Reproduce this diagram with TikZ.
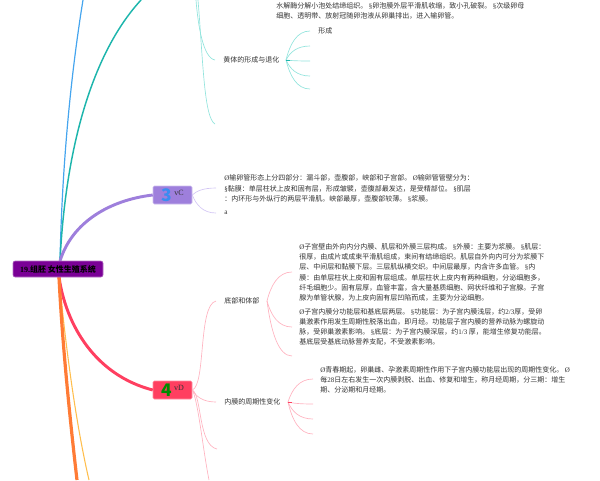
\documentclass[tikz,border=0pt]{standalone}
\usepackage{fontspec}
\usetikzlibrary{calc}
\setmainfont{Noto Sans CJK SC}
\newfontfamily\lat{Liberation Serif}
\definecolor{rootc}{HTML}{7A0096}
\definecolor{purp}{HTML}{9E7FDC}
\definecolor{redc}{HTML}{FF3F60}
\definecolor{tealc}{HTML}{1DB5AC}
\definecolor{bluec}{HTML}{45A5EE}
\definecolor{orangec}{HTML}{FF7B35}
\definecolor{yelc}{HTML}{FFBE4D}
\definecolor{lpink}{HTML}{FFB3C0}
\definecolor{lteal}{HTML}{93E4DD}
\definecolor{lpurp}{HTML}{D3C6F4}
\definecolor{txt}{HTML}{333333}
\tikzset{
  para/.style={anchor=west,inner sep=0pt,align=left,text=txt,font=\fontsize{5.25}{7.65}\selectfont},
  lbl/.style={anchor=west,inner sep=0pt,text=txt,font=\fontsize{5.25}{6}\selectfont},
  mainbox/.style={rectangle,rounded corners=1pt,minimum width=29.25pt,minimum height=13.5pt,inner sep=0pt},
  digit/.style={inner sep=0pt,font=\fontsize{13}{13}\selectfont\bfseries},
  vtag/.style={inner sep=0pt,text=black!80,font=\lat\fontsize{6}{6}\selectfont},
  fan/.style={to path={.. controls ($(\tikztostart)!0.55!(\tikztostart|-\tikztotarget)+(3pt,0)$) and ($(\tikztostart|-\tikztotarget)!0.45!(\tikztotarget)$) .. (\tikztotarget)}},
  pinkl/.style={draw=lpink,line width=0.5pt},
  teall/.style={draw=lteal,line width=0.5pt},
  purpl/.style={draw=lpurp,line width=0.5pt}
}
\begin{document}
\begin{tikzpicture}[x=0.75pt,y=-0.75pt]
\useasboundingbox (0,0) rectangle (600,480);
\clip (0,0) rectangle (600,480);
% free ends
\coordinate (blueend) at (83,0);
\coordinate (tealend) at (141,0);
\coordinate (orangeend) at (77,480);
\coordinate (yelend) at (89,480);
\coordinate (rootT) at (60,261);
\coordinate (rootB) at (59,277);
% main nodes
\node[mainbox,draw=purp!50!white,fill=purp] (vC) at (172.5,195) {};
\node[mainbox,draw=redc!60!white,fill=redc] (vD) at (172.5,390) {};
% main branches
\draw[bluec,line width=0.9pt] (rootT) .. controls (62,170) and (70,80) .. (blueend);
\draw[tealc,line width=1.1pt] (rootT) .. controls (66,140) and (95,50) .. (tealend);
\draw[purp,line width=2.2pt] (rootT) .. controls (72,222) and (110,200) .. (vC.west);
\draw[redc,line width=2.2pt] (rootB) .. controls (66,325) and (95,375) .. (vD.west);
\draw[yelc,line width=0.8pt] (rootB) .. controls (65,340) and (75,420) .. (yelend);
\draw[orangec,line width=2.4pt] (rootB) .. controls (62,340) and (70,420) .. (orangeend);
\node[rectangle,rounded corners=1.5pt,draw=rootc!55!white,line width=0.4pt,fill=rootc,minimum width=67.5pt,minimum height=12pt,inner sep=0pt,font=\fontsize{6}{6}\selectfont\bfseries,text=black] (root) at (58,269) {{\lat 19.}组胚 女性生殖系统};
\node[digit,text=bluec!85!blue] (d3) at (167,195) {3};
\node[vtag] (tc) at (179,193) {vC};
\node[digit,text=green!55!black] (d4) at (167,390) {4};
\node[vtag] (td) at (179,388) {vD};
% top text
\node[para] (ptop) at (276,11) {水解酶分解小泡处结缔组织。 {\lat§}卵泡膜外层平滑肌收缩，致小孔破裂。 {\lat§}次级卵母\\细胞、透明带、放射冠随卵泡液从卵巢排出，进入输卵管。};
% luteal branch
\node[lbl] (huang) at (223,60) {黄体的形成与退化};
\node[lbl] (xc) at (318,31) {形成};
\coordinate (thub) at (286,60);
\coordinate (ta) at (196,0);
\coordinate (tb) at (198,0);
\coordinate (tk) at (215,124);
\coordinate (t1) at (310,31);
\coordinate (t2) at (310,46);
\coordinate (t3) at (310,61);
\coordinate (t4) at (310,76);
\coordinate (t5) at (310,89);
\draw[teall] (ta) .. controls (198,25) and (203,58) .. ([xshift=-6pt]huang.west);
\draw[teall] (tb) .. controls (203,60) and (204,118) .. (tk);
\foreach \e in {t1,t2,t3,t4,t5} \draw[teall] (thub) to[fan] (\e);
\draw[tealc,line width=0.6pt] (thub) -- ++(4,0);
% vC children
\node[para] (pc) at (224,188.5) {{\lat Ø}输卵管形态上分四部分：漏斗部，壶腹部，峡部和子宫部。 {\lat Ø}输卵管管壁分为：\\{\lat§}黏膜：单层柱状上皮和固有层，形成皱襞，壶腹部最发达，是受精部位。 {\lat§}肌层\\：内环形与外纵行的两层平滑肌。峡部最厚，壶腹部较薄。 {\lat§}浆膜。};
\node[lbl,font=\lat\fontsize{5.5}{6}\selectfont] (pa) at (224,213) {a};
\coordinate (pce) at (216,188);
\coordinate (pae) at (216,213);
\draw[purpl] (vC.east) to[fan] (pce);
\draw[purpl] (vC.east) to[fan] (pae);
% vD children
\node[lbl] (di) at (224,301) {底部和体部};
\node[lbl] (nei) at (224,402) {内膜的周期性变化};
\coordinate (d2e) at (216,402);
\coordinate (d3e) at (217,449);
\coordinate (d4e) at (209,480);
\draw[pinkl] (vD.east) .. controls (206,385) and (198,305) .. ([xshift=-6pt]di.west);
\draw[pinkl] (vD.east) to[fan] (d2e);
\draw[pinkl] (vD.east) .. controls (202,395) and (198,445) .. (d3e);
\draw[pinkl] (vD.east) .. controls (198,400) and (203,450) .. (d4e);
% body paragraphs
\node[para] (p1) at (299,272.5) {{\lat Ø}子宫壁由外向内分内膜、肌层和外膜三层构成。 {\lat§}外膜：主要为浆膜。 {\lat§}肌层：\\很厚，由成片或成束平滑肌组成，束间有结缔组织。肌层自外向内可分为浆膜下\\层、中间层和黏膜下层。三层肌纵横交织。中间层最厚，内含许多血管。 {\lat§}内\\膜：由单层柱状上皮和固有层组成。单层柱状上皮内有两种细胞，分泌细胞多，\\纤毛细胞少。固有层厚，血管丰富，含大量基质细胞、网状纤维和子宫腺。子宫\\腺为单管状腺，为上皮向固有层凹陷而成，主要为分泌细胞。};
\node[para] (p2) at (299,327) {{\lat Ø}子宫内膜分功能层和基底层两层。 {\lat§}功能层：为子宫内膜浅层，约{\lat 2/3}厚，受卵\\巢激素作用发生周期性脱落出血，即月经。功能层子宫内膜的营养动脉为螺旋动\\脉，受卵巢激素影响。 {\lat§}底层：为子宫内膜深层，约{\lat 1/3} 厚，能增生修复功能层。\\基底层受基底动脉营养支配，不受激素影响。};
\coordinate (dhub) at (267,301);
\coordinate (d1x) at (292,272);
\coordinate (d2x) at (292,327);
\coordinate (d3x) at (292,356);
\foreach \e in {d1x,d2x,d3x} \draw[pinkl] (dhub) to[fan] (\e);
% cycle paragraph
\node[para] (p3) at (320,380) {{\lat Ø}青春期起，卵巢雌、孕激素周期性作用下子宫内膜功能层出现的周期性变化。 {\lat Ø}\\每{\lat 28}日左右发生一次内膜剥脱、出血、修复和增生，称月经周期，分三期：增生\\期、分泌期和月经期。};
\coordinate (nhub) at (288,402);
\coordinate (n1) at (313,379);
\coordinate (n2) at (313,404);
\coordinate (n3) at (313,419);
\coordinate (n4) at (313,434);
\foreach \e in {n1,n2,n3,n4} \draw[pinkl] (nhub) to[fan] (\e);
\draw[redc,line width=0.6pt] (nhub) -- ++(4,0);
\end{tikzpicture}
\end{document}
